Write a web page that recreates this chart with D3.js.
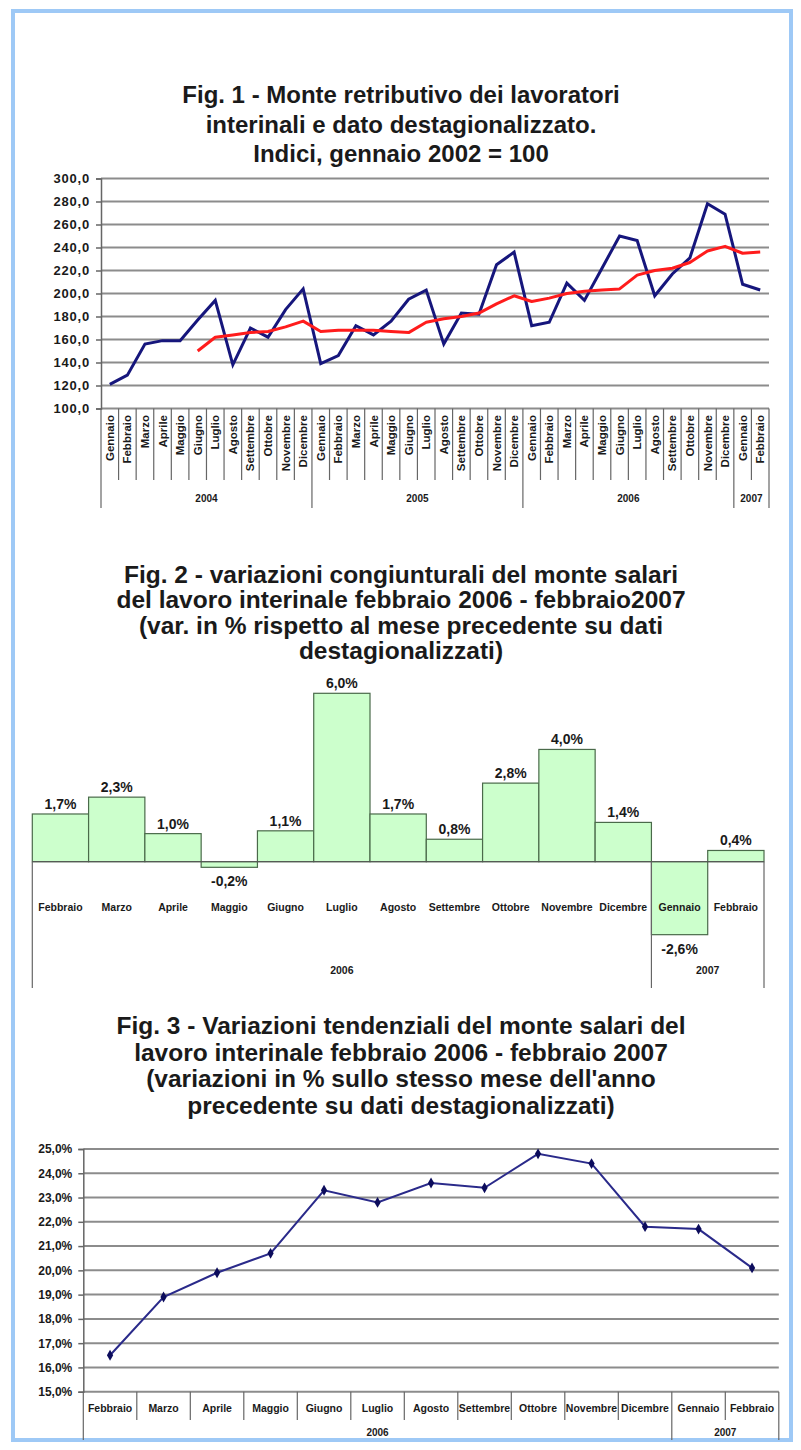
<!DOCTYPE html>
<html>
<head>
<meta charset="utf-8">
<script src="https://cdn.jsdelivr.net/npm/d3@7"></script>
<style>
body { margin: 0; background: #fff; }
svg text { font-family: "Liberation Sans", Arial, sans-serif; font-weight: bold; fill: #1a1a1a; }
</style>
</head>
<body>
<script>
// ---- Fig. 1 data: indici mensili (gennaio 2002 = 100)
var fig1Titolo = ["Fig. 1 - Monte retributivo dei lavoratori", "interinali e dato destagionalizzato.", "Indici, gennaio 2002 = 100"];
var fig1Mesi = ["Gennaio","Febbraio","Marzo","Aprile","Maggio","Giugno","Luglio","Agosto","Settembre","Ottobre","Novembre","Dicembre",
                "Gennaio","Febbraio","Marzo","Aprile","Maggio","Giugno","Luglio","Agosto","Settembre","Ottobre","Novembre","Dicembre",
                "Gennaio","Febbraio","Marzo","Aprile","Maggio","Giugno","Luglio","Agosto","Settembre","Ottobre","Novembre","Dicembre",
                "Gennaio","Febbraio"];
var fig1Anni = ["2004", "2005", "2006", "2007"];
var fig1MesiPerAnno = [12, 12, 12, 2];
var fig1Grezzo = [121,129,156,159,159,177,194,138,170,162,186,204,
                  139,146,172,164,176,195,203,156,183,182,225,236,
                  172,175,209,194,222,250,246,198,217,231,278,269,
                  208,203];
var fig1Destag = [null,null,null,null,null,150,162,164,166,167,171,176,
                  167,168,168,168,167,166,175,178,180,183,191,198,
                  193,196,200,202,203,204,216,220,222,227,237,241,
                  235,236];

// ---- Fig. 2 data: variazioni congiunturali %
var fig2Titolo = ["Fig. 2 - variazioni congiunturali del monte salari", "del lavoro interinale febbraio 2006 - febbraio2007",
                  "(var. in % rispetto al mese precedente su dati", "destagionalizzati)"];
var fig2Mesi = ["Febbraio","Marzo","Aprile","Maggio","Giugno","Luglio","Agosto","Settembre","Ottobre","Novembre","Dicembre","Gennaio","Febbraio"];
var fig2Anni = ["2006", "2007"];
var fig2MesiPerAnno = [11, 2];
var fig2Valori = [1.7, 2.3, 1.0, -0.2, 1.1, 6.0, 1.7, 0.8, 2.8, 4.0, 1.4, -2.6, 0.4];

// ---- Fig. 3 data: variazioni tendenziali %
var fig3Titolo = ["Fig. 3 - Variazioni tendenziali del monte salari del", "lavoro interinale febbraio 2006 - febbraio 2007",
                  "(variazioni in % sullo stesso mese dell'anno", "precedente su dati destagionalizzati)"];
var fig3Mesi = fig2Mesi;
var fig3Anni = ["2006", "2007"];
var fig3MesiPerAnno = [11, 2];
var fig3Valori = [16.5, 18.9, 19.9, 20.7, 23.3, 22.8, 23.6, 23.4, 24.8, 24.4, 21.8, 21.7, 20.1];

var svg = d3.select("body").append("svg").attr("width", 801).attr("height", 1450);

// cornice azzurra
svg.append("rect").attr("x", 13).attr("y", 11).attr("width", 778).attr("height", 1429)
    .attr("fill", "none").attr("stroke", "#9ec9f6").attr("stroke-width", 4);

var it = d3.formatLocale({decimal: ",", thousands: ".", grouping: [3], currency: ["€", ""], minus: "-"});
var f1 = it.format(".1f");

function titolo(righe, y0, step, size) {
    svg.append("g").selectAll("text").data(righe).enter().append("text")
        .attr("x", 401).attr("y", function(d, i) { return y0 + i * step; })
        .attr("text-anchor", "middle").style("font-size", size + "px")
        .text(function(d) { return d; });
}

// confini dei gruppi anno (indici di categoria)
function confiniAnni(perAnno) {
    var b = [0];
    perAnno.forEach(function(n) { b.push(b[b.length - 1] + n); });
    return b;
}

function stileAsse(g, size, spacing) {
    g.attr("font-size", null).attr("font-family", null);
    g.select(".domain").attr("stroke", "#666").attr("stroke-width", 1.5);
    g.selectAll(".tick line").attr("stroke", "#666").attr("stroke-width", 1.5);
    g.selectAll(".tick text").style("font-size", size + "px").style("letter-spacing", spacing + "px").attr("fill", "#1a1a1a");
}

// ================= Fig. 1 =================
titolo(fig1Titolo, 103, 29.5, 24);

var x1 = d3.scaleBand().domain(d3.range(fig1Mesi.length)).range([101, 769]);
var y1 = d3.scaleLinear().domain([100, 300]).range([408.5, 178.5]);
var bw1 = x1.bandwidth();

var g1 = svg.append("g");
g1.selectAll("line.grid").data(y1.ticks(10)).enter().append("line")
    .attr("x1", 101).attr("x2", 769)
    .attr("y1", function(d) { return y1(d); }).attr("y2", function(d) { return y1(d); })
    .attr("stroke", "#8c8c8c").attr("stroke-width", 2);

g1.append("g").attr("transform", "translate(101,0)")
    .call(d3.axisLeft(y1).ticks(10).tickFormat(f1).tickSize(5).tickPadding(6))
    .call(stileAsse, 13, 0.8);

var anni1 = confiniAnni(fig1MesiPerAnno);
g1.selectAll("line.sep").data(d3.range(fig1Mesi.length + 1)).enter().append("line")
    .attr("x1", function(i) { return 101 + i * bw1; }).attr("x2", function(i) { return 101 + i * bw1; })
    .attr("y1", 408.5)
    .attr("y2", function(i) { return anni1.indexOf(i) >= 0 ? 508 : 480; })
    .attr("stroke", "#666").attr("stroke-width", 1.2);

g1.selectAll("text.mese").data(fig1Mesi).enter().append("text")
    .attr("transform", function(d, i) { return "translate(" + (x1(i) + bw1 / 2) + ",415) rotate(-90)"; })
    .attr("text-anchor", "end").attr("dy", "0.35em")
    .style("font-size", "11.5px")
    .text(function(d) { return d; });

g1.selectAll("text.anno").data(fig1Anni).enter().append("text")
    .attr("x", function(d, i) { return 101 + (anni1[i] + anni1[i + 1]) / 2 * bw1; })
    .attr("y", 502).attr("text-anchor", "middle").style("font-size", "10px")
    .text(function(d) { return d; });

var linea1 = d3.line()
    .defined(function(d) { return d != null; })
    .x(function(d, i) { return x1(i) + bw1 / 2; })
    .y(function(d) { return y1(d); });

g1.append("path").datum(fig1Grezzo).attr("d", linea1)
    .attr("fill", "none").attr("stroke", "#16167c").attr("stroke-width", 3).attr("stroke-linejoin", "miter");
g1.append("path").datum(fig1Destag).attr("d", linea1)
    .attr("fill", "none").attr("stroke", "#ff1c1c").attr("stroke-width", 3).attr("stroke-linejoin", "round");

// ================= Fig. 2 =================
titolo(fig2Titolo, 583, 25.3, 24.5);

var x2 = d3.scaleBand().domain(d3.range(fig2Valori.length)).range([32.3, 764]);
var y2 = d3.scaleLinear().domain([-3, 6]).range([945.9, 693.3]);
var bw2 = x2.bandwidth();
var g2 = svg.append("g");

g2.selectAll("rect").data(fig2Valori).enter().append("rect")
    .attr("x", function(d, i) { return x2(i); })
    .attr("width", bw2)
    .attr("y", function(d) { return y2(Math.max(0, d)); })
    .attr("height", function(d) { return Math.abs(y2(d) - y2(0)); })
    .attr("fill", "#ccffcc").attr("stroke", "#4a6a4a").attr("stroke-width", 1.2);

g2.append("line").attr("x1", 32.3).attr("x2", 764).attr("y1", y2(0)).attr("y2", y2(0))
    .attr("stroke", "#555").attr("stroke-width", 1);

var anni2 = confiniAnni(fig2MesiPerAnno);
g2.selectAll("line.sep").data(anni2).enter().append("line")
    .attr("x1", function(i) { return 32.3 + i * bw2; }).attr("x2", function(i) { return 32.3 + i * bw2; })
    .attr("y1", y2(0)).attr("y2", 988)
    .attr("stroke", "#666").attr("stroke-width", 1.2);

g2.selectAll("text.val").data(fig2Valori).enter().append("text")
    .attr("x", function(d, i) { return x2(i) + bw2 / 2; })
    .attr("y", function(d) { return d >= 0 ? y2(d) - 5 : y2(d) + 19; })
    .attr("text-anchor", "middle").style("font-size", "14px")
    .text(function(d) { return f1(d) + "%"; });

g2.selectAll("text.mese").data(fig2Mesi).enter().append("text")
    .attr("x", function(d, i) { return x2(i) + bw2 / 2; })
    .attr("y", 911).attr("text-anchor", "middle").style("font-size", "10.5px")
    .text(function(d) { return d; });

g2.selectAll("text.anno").data(fig2Anni).enter().append("text")
    .attr("x", function(d, i) { return 32.3 + (anni2[i] + anni2[i + 1]) / 2 * bw2; })
    .attr("y", 974).attr("text-anchor", "middle").style("font-size", "10.5px")
    .text(function(d) { return d; });

// ================= Fig. 3 =================
titolo(fig3Titolo, 1034, 26.5, 24.5);

var x3 = d3.scaleBand().domain(d3.range(fig3Valori.length)).range([83.3, 778.8]);
var y3 = d3.scaleLinear().domain([15, 25]).range([1391.7, 1149]);
var bw3 = x3.bandwidth();
var g3 = svg.append("g");

g3.selectAll("line.grid").data(y3.ticks(10)).enter().append("line")
    .attr("x1", 83.3).attr("x2", 778.8)
    .attr("y1", function(d) { return y3(d); }).attr("y2", function(d) { return y3(d); })
    .attr("stroke", "#8c8c8c").attr("stroke-width", 2);

g3.append("g").attr("transform", "translate(83.3,0)")
    .call(d3.axisLeft(y3).ticks(10).tickFormat(function(d) { return f1(d) + "%"; }).tickSize(5).tickPadding(6))
    .call(stileAsse, 12, 0);

var anni3 = confiniAnni(fig3MesiPerAnno);
g3.selectAll("line.sep").data(d3.range(fig3Valori.length + 1)).enter().append("line")
    .attr("x1", function(i) { return 83.3 + i * bw3; }).attr("x2", function(i) { return 83.3 + i * bw3; })
    .attr("y1", 1391.7)
    .attr("y2", function(i) { return anni3.indexOf(i) >= 0 ? 1440 : 1420; })
    .attr("stroke", "#666").attr("stroke-width", 1.2);

g3.selectAll("text.mese").data(fig3Mesi).enter().append("text")
    .attr("x", function(d, i) { return x3(i) + bw3 / 2; })
    .attr("y", 1412).attr("text-anchor", "middle").style("font-size", "10.5px")
    .text(function(d) { return d; });

g3.selectAll("text.anno").data(fig3Anni).enter().append("text")
    .attr("x", function(d, i) { return 83.3 + (anni3[i] + anni3[i + 1]) / 2 * bw3; })
    .attr("y", 1436).attr("text-anchor", "middle").style("font-size", "10px")
    .text(function(d) { return d; });

g3.append("path").datum(fig3Valori)
    .attr("d", d3.line().x(function(d, i) { return x3(i) + bw3 / 2; }).y(function(d) { return y3(d); }))
    .attr("fill", "none").attr("stroke", "#2a2a8a").attr("stroke-width", 2);

g3.selectAll("path.pt").data(fig3Valori).enter().append("path")
    .attr("transform", function(d, i) { return "translate(" + (x3(i) + bw3 / 2) + "," + y3(d) + ")"; })
    .attr("d", d3.symbol().type(d3.symbolDiamond).size(34))
    .attr("fill", "#0c0c5c");
</script>
</body>
</html>
